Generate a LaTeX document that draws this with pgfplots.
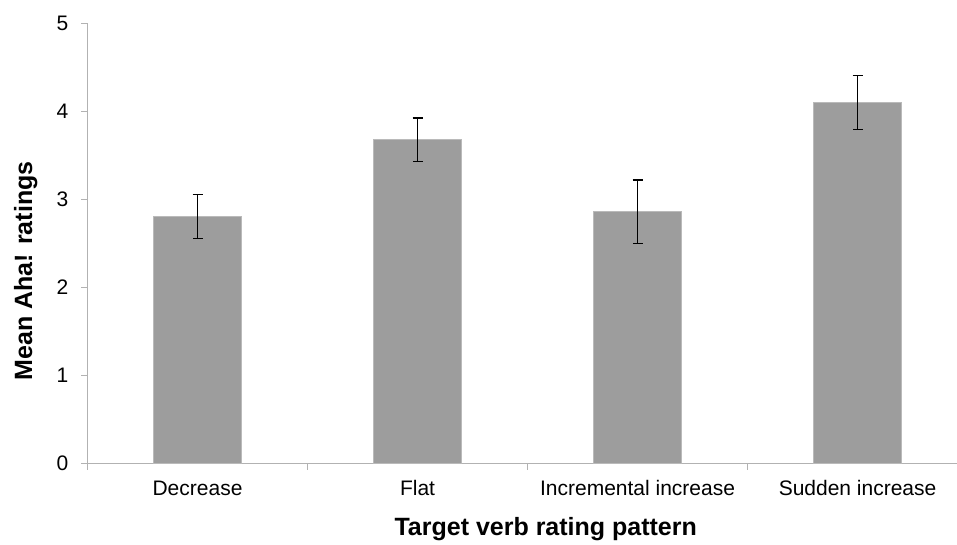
\documentclass[border=0pt]{standalone}
\usepackage{fontspec}
\setmainfont{Liberation Sans}
\usepackage{pgfplots}
\pgfplotsset{compat=1.18}
\definecolor{barg}{RGB}{157,157,157}
\definecolor{axisg}{RGB}{178,178,178}
\begin{document}
\begin{tikzpicture}
\begin{axis}[
  at={(0,0)}, anchor=south west,
  scale only axis,
  width=869.5pt, height=440.4pt,
  xmin=-0.5, xmax=3.452,
  ymin=0, ymax=5,
  ybar, bar width=88pt,
  axis x line*=bottom, axis y line*=left,
  axis line style={draw=axisg, line width=1pt, -},
  xtick={0,1,2,3},
  xticklabels={Decrease, Flat, Incremental increase, Sudden increase},
  minor xtick={-0.5,0.5,1.5,2.5},
  ytick={0,1,2,3,4,5},
  tick align=outside,
  major tick length=6pt, minor tick length=6pt,
  major x tick style={draw=none},
  minor x tick style={draw=axisg, line width=1pt},
  major y tick style={draw=axisg, line width=1pt},
  /pgf/number format/assume math mode=true,
  ticklabel style={font=\fontsize{21}{25}\selectfont, text=black},
  xticklabel style={anchor=base, inner sep=0pt, yshift=-26pt},
  yticklabel style={anchor=east, inner sep=0pt, xshift=-13pt},
  xlabel={Target verb rating pattern},
  ylabel={Mean Aha! ratings},
  label style={font=\bfseries\fontsize{25}{30}\selectfont},
  xlabel style={at={(axis description cs:0.527,-0.164)}, anchor=base, inner sep=0pt},
  ylabel style={at={(axis description cs:-0.0638,0.4376)}, anchor=base, rotate=0, inner sep=0pt},
  error bars/error bar style={black, line width=1.2pt},
  error bars/error mark options={black, rotate=90, mark size=5pt, line width=1.2pt},
]
\addplot[fill=barg, draw=barg!70!white, line width=0.6pt,
  error bars/.cd, y dir=both, y explicit]
  coordinates {
    (0,2.81) +- (0,0.25)
    (1,3.68) +- (0,0.245)
    (2,2.86) +- (0,0.36)
    (3,4.10) +- (0,0.31)
  };
\end{axis}
\pgfresetboundingbox
\path (-87.5pt,-80.3pt) rectangle (869.5pt,463.7pt);
\end{tikzpicture}
\end{document}
